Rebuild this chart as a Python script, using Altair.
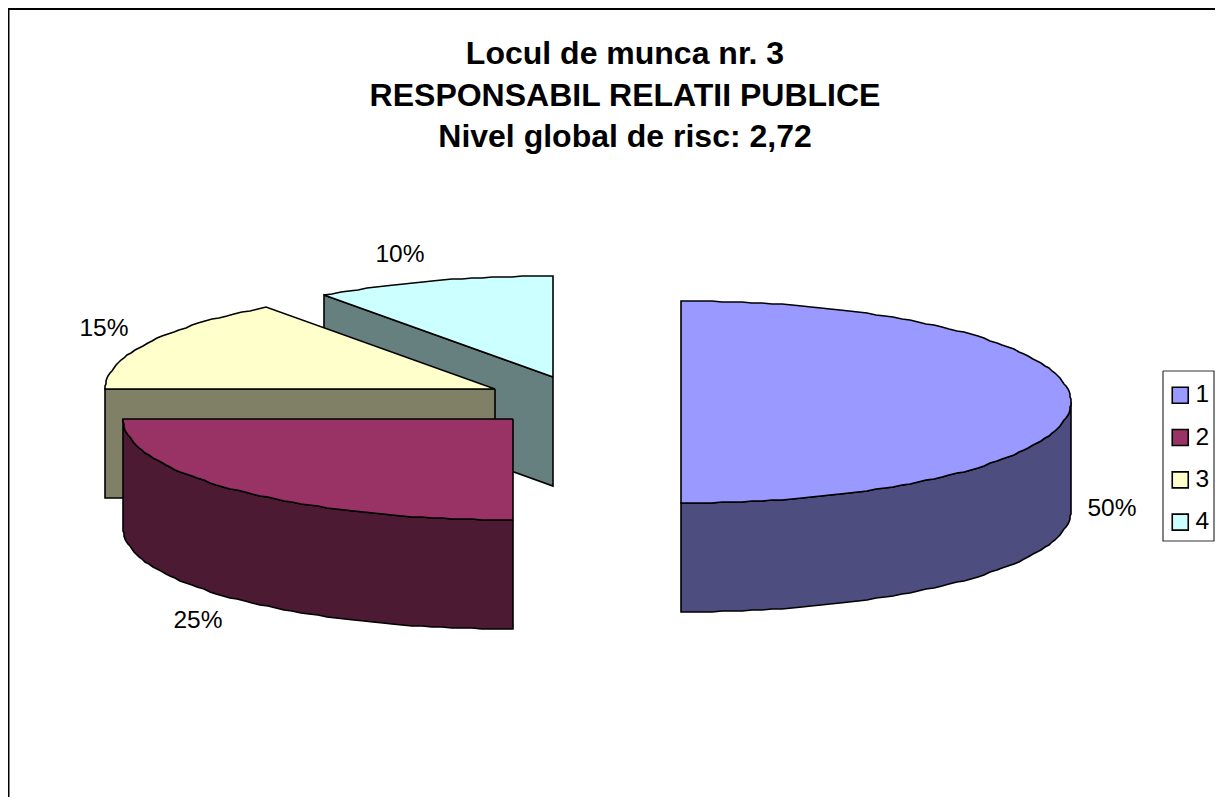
import math
import altair as alt
import pandas as pd

# Chart content
categories = ["1", "2", "3", "4"]
shares = [50, 25, 15, 10]
top_colors = ["#9999FF", "#993366", "#FFFFCC", "#CCFFFF"]
side_colors = ["#4D4D80", "#4D1A33", "#808066", "#668080"]
title_lines = ["Locul de munca nr. 3", "RESPONSABIL RELATII PUBLICE", "Nivel global de risc: 2,72"]

# Exploded slice centres on the page and pie shape
centers = [(681, 402), (513, 419), (495, 389), (553, 377)]
RX, RY, DEPTH = 390, 101, 109
label_pos = [(1112, 509), (198, 621), (104, 329), (400, 255)]
legend_box = [(1163, 371), (1214, 371), (1214, 541), (1163, 541)]

W, H = 1207, 789
X0, Y0 = 8, 8
xs = alt.Scale(domain=[X0, X0 + W], range=[0, W])
ys = alt.Scale(domain=[Y0, Y0 + H], range=[0, H])


def arc(c, t0, t1, dy=0, step=1.5):
    n = max(2, int(abs(t1 - t0) / step) + 1)
    return [
        (round(c[0] + RX * math.cos(math.radians(t0 + (t1 - t0) * i / (n - 1)))),
         round(c[1] + dy + RY * math.sin(math.radians(t0 + (t1 - t0) * i / (n - 1)))))
        for i in range(n)
    ]


def poly(points, fill, stroke="black", width=1.6):
    pts = points + [points[0]]
    df = pd.DataFrame({"x": [p[0] for p in pts], "y": [p[1] for p in pts], "i": range(len(pts))})
    return alt.Chart(df).mark_line(fill=fill, stroke=stroke, strokeWidth=width, strokeJoin="miter").encode(
        x=alt.X("x:Q", scale=xs, axis=None),
        y=alt.Y("y:Q", scale=ys, axis=None),
        order="i:Q",
    )


def rim(c, t):
    return arc(c, t, t + 0.001)[0]


# slice angles accumulate clockwise from the back of the pie (-90 deg)
angles = []
a = -90.0
for s in shares:
    angles.append((a, a + s * 3.6))
    a += s * 3.6

layers = []
# frame: left and top only
frame = pd.DataFrame({"x": [X0 + 0.5, X0 + 0.5, X0 + W], "y": [Y0 + H, Y0 + 1, Y0 + 1], "i": [0, 1, 2]})
layers.append(alt.Chart(frame).mark_line(stroke="black", strokeWidth=2).encode(
    x=alt.X("x:Q", scale=xs, axis=None), y=alt.Y("y:Q", scale=ys, axis=None), order="i:Q"))

# 4: teal
c = centers[3]; t0, t1 = angles[3]
p = rim(c, t0)
layers.append(poly([c, p, (p[0], p[1] + DEPTH), (c[0], c[1] + DEPTH)], side_colors[3]))
layers.append(poly([c] + arc(c, t0, t1), top_colors[3]))

# 3: yellow
c = centers[2]; t0, t1 = angles[2]
p = rim(c, t0)
layers.append(poly([c, p, (p[0], p[1] + DEPTH), (c[0], c[1] + DEPTH)], side_colors[2]))
layers.append(poly([c] + arc(c, t0, t1), top_colors[2]))

# 2: red
c = centers[1]; t0, t1 = angles[1]
layers.append(poly(arc(c, t0, t1) + arc(c, t1, t0, dy=DEPTH), side_colors[1]))
layers.append(poly([c] + arc(c, t0, t1), top_colors[1]))

# 1: blue
c = centers[0]; t0, t1 = angles[0]
layers.append(poly(arc(c, 0, t1) + arc(c, t1, 0, dy=DEPTH), side_colors[0]))
layers.append(poly([c] + arc(c, t0, t1), top_colors[0]))

# percentage labels
lab = pd.DataFrame({"x": [p[0] for p in label_pos], "y": [p[1] for p in label_pos],
                    "t": [f"{s}%" for s in shares]})
layers.append(alt.Chart(lab).mark_text(font="Liberation Sans", fontSize=24.5, color="black").encode(
    x=alt.X("x:Q", scale=xs, axis=None), y=alt.Y("y:Q", scale=ys, axis=None), text="t:N"))

# legend frame and legend
layers.append(poly(legend_box, "white", stroke="#333333", width=1.2))
leg = pd.DataFrame({"category": categories})
layers.append(alt.Chart(leg).mark_square(size=0, opacity=1, stroke="black").encode(
    fill=alt.Fill("category:N",
                  scale=alt.Scale(domain=categories, range=top_colors),
                  legend=alt.Legend(
                      title=None, orient="none", legendX=1160, legendY=375,
                      symbolType="square", symbolSize=256, symbolStrokeColor="black",
                      symbolStrokeWidth=1.6, symbolOpacity=1,
                      labelFont="Liberation Sans", labelFontSize=24.5, labelColor="black",
                      labelOffset=3, rowPadding=17.3, padding=0,
                  ))))

chart = alt.layer(*layers).properties(
    width=W, height=H, padding=0,
    autosize=alt.AutoSizeParams(type="none"),
    title=alt.TitleParams(text=title_lines, anchor="middle", orient="top", baseline="alphabetic",
                          offset=0, dy=174, dx=13.5, font="Liberation Sans", fontSize=32, fontWeight="bold",
                          color="black", lineHeight=41.5),
).configure_view(stroke=None)

chart.save("out.html", embed_options={"renderer": "svg", "actions": False})
